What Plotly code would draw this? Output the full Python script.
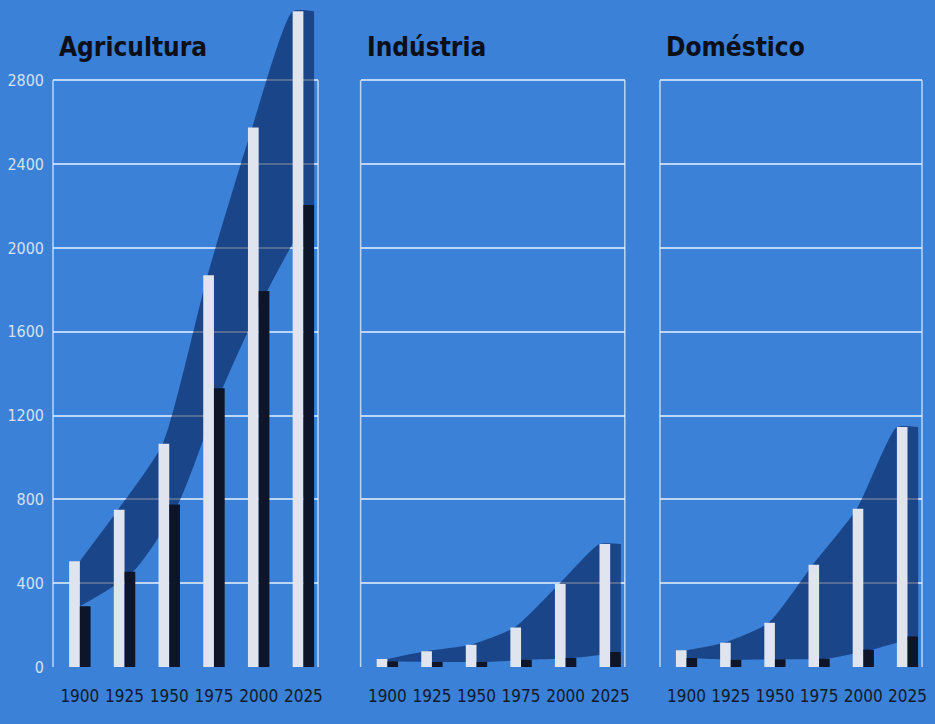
import plotly.graph_objects as go

# ---------------- data ----------------
years = [1900, 1925, 1950, 1975, 2000, 2025]
year_labels = ["1900", "1925", "1950", "1975", "2000", "2025"]
titles = ["Agricultura", "Indústria", "Doméstico"]

agri_withdrawal = [505, 750, 1065, 1870, 2575, 3130]
agri_consumption = [290, 455, 775, 1330, 1795, 2205]

ind_withdrawal = [38, 75, 106, 189, 396, 587]
ind_consumption = [27, 24, 24, 35, 43, 71]

dom_withdrawal = [80, 116, 211, 488, 755, 1145]
dom_consumption = [43, 35, 37, 40, 83, 146]

y_ticks = [0, 400, 800, 1200, 1600, 2000, 2400, 2800]
y_tick_labels = ["0", "400", "800", "1200", "1600", "2000", "2400", "2800"]

# ---------------- style ----------------
BG = "#3a81d7"
BAND = "rgba(0,20,72,0.55)"
WHITE_BAR = "#dfe4ee"
BLACK_BAR = "#0e1529"
GRID = "rgba(235,242,252,0.75)"
FONT = "DejaVu Sans Condensed, Liberation Sans Narrow, Arial Narrow, DejaVu Sans, sans-serif"
BAR_W = 6

panels = [
    (agri_withdrawal, agri_consumption),
    (ind_withdrawal, ind_consumption),
    (dom_withdrawal, dom_consumption),
]
domains = [[0.0, 0.305], [0.354, 0.658], [0.6985, 1.0]]
x_range = [1885, 2033.2]
y_range = [0, 3150]

fig = go.Figure()
layout = dict(
    width=935, height=724,
    paper_bgcolor=BG, plot_bgcolor=BG,
    margin=dict(l=53, r=13, t=7, b=57, autoexpand=False),
    showlegend=False,
    barmode="overlay",
    shapes=[], annotations=[],
)

for i, (wd, cs) in enumerate(panels):
    n = i + 1
    ov = i + 4
    xa = "x" if n == 1 else f"x{n}"
    ya = "y" if n == 1 else f"y{n}"
    xo, yo = f"x{ov}", f"y{ov}"

    # band: upper edge follows withdrawal tops, lower edge consumption tops
    upper_x = ([years[0]] + [y - 0.6 * BAR_W for y in years[1:-1]]
               + [years[-1] - BAR_W, years[-1] + BAR_W])
    upper_y = list(wd) + [wd[-1]]
    lower_x = [years[0]] + [y + 0.8 * BAR_W for y in years[1:-1]] + [years[-1] + BAR_W]
    lower_y = list(cs)
    fig.add_trace(go.Scatter(x=lower_x, y=lower_y, mode="lines",
                             line=dict(width=0, shape="spline", smoothing=0.7),
                             xaxis=xa, yaxis=ya, hoverinfo="skip"))
    fig.add_trace(go.Scatter(x=upper_x, y=upper_y, mode="lines",
                             line=dict(width=0, shape="spline", smoothing=0.55),
                             fill="tonexty", fillcolor=BAND, xaxis=xa, yaxis=ya, hoverinfo="skip"))

    # bars on overlay axes (drawn on top)
    fig.add_trace(go.Bar(x=years, y=wd, width=BAR_W, offset=-BAR_W,
                         marker=dict(color=WHITE_BAR, line=dict(width=0)),
                         xaxis=xo, yaxis=yo))
    fig.add_trace(go.Bar(x=years, y=cs, width=BAR_W, offset=0,
                         marker=dict(color=BLACK_BAR, line=dict(width=0)),
                         xaxis=xo, yaxis=yo))

    xkey = "xaxis" if n == 1 else f"xaxis{n}"
    ykey = "yaxis" if n == 1 else f"yaxis{n}"
    layout[xkey] = dict(domain=domains[i], anchor=ya, range=x_range, tickmode="array",
                        tickvals=years, ticktext=year_labels, showgrid=False, zeroline=False,
                        showline=False, ticks="", ticklabelstandoff=17, tickangle=0,
                        automargin=False,
                        tickfont=dict(family=FONT, size=17, color="#111a2c"))
    layout[ykey] = dict(domain=[0, 1], anchor=xa, range=y_range, tickmode="array",
                        tickvals=y_ticks, ticktext=y_tick_labels, showgrid=True, gridcolor=GRID,
                        gridwidth=1.5, zeroline=False, showline=False, ticks="",
                        showticklabels=(n == 1), ticklabelstandoff=8, automargin=False,
                        tickfont=dict(family=FONT, size=16, color="#d4e1f5"))
    layout[f"xaxis{ov}"] = dict(overlaying=xa, anchor=yo, range=x_range, visible=False)
    layout[f"yaxis{ov}"] = dict(overlaying=ya, anchor=xo, range=y_range, visible=False)

    for xd in (0, 1):
        layout["shapes"].append(dict(type="line", xref=f"{xa} domain", yref=ya,
                                     x0=xd, x1=xd, y0=0, y1=y_ticks[-1],
                                     line=dict(color=GRID, width=1.5), layer="below"))

    layout["annotations"].append(dict(text=f"<b>{titles[i]}</b>", xref=f"{xa} domain", yref="paper",
                                      x=0.015, y=0.94, xanchor="left", yanchor="middle",
                                      showarrow=False,
                                      font=dict(family=FONT, size=26, color="#0c0f18")))

fig.update_layout(**layout)
fig.write_html("out.html", config={"displayModeBar": False},
               post_script="document.body.style.margin='0';")
